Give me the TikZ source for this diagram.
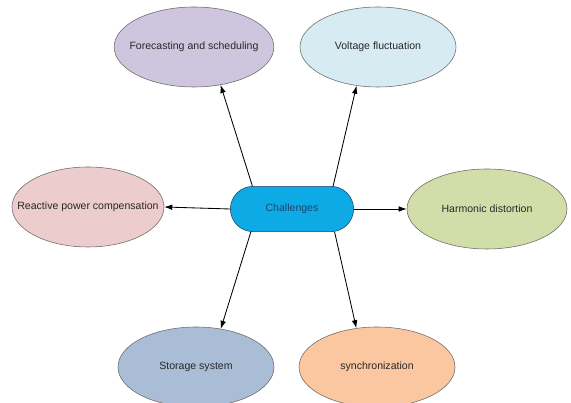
\documentclass[tikz,border=0pt]{standalone}
\usepackage{fontspec}
\setmainfont{Liberation Sans}
\usetikzlibrary{positioning,arrows.meta,shapes.geometric,shapes.misc}
\usepackage{xcolor}
\definecolor{lavender}{RGB}{206,197,222}
\definecolor{icecyan}{RGB}{214,236,242}
\definecolor{rosefill}{RGB}{236,204,205}
\definecolor{olivefill}{RGB}{210,222,170}
\definecolor{slatefill}{RGB}{170,189,215}
\definecolor{peachfill}{RGB}{250,199,160}
\definecolor{chblue}{RGB}{14,170,230}
\definecolor{chbdr}{RGB}{30,70,110}
\definecolor{elbdr}{RGB}{110,105,105}
\definecolor{txtcol}{RGB}{40,40,40}

\begin{document}
\begin{tikzpicture}[font=\fontsize{7.5}{9}\selectfont]
\tikzset{
  EL/.style={draw=elbdr,thin,ellipse,minimum width=3.9cm,minimum height=2.0cm,inner sep=0pt,text=txtcol},
  CH/.style={draw=chbdr,fill=chblue,thin,rounded rectangle,minimum width=3.08cm,minimum height=1.13cm,inner sep=0pt,text=chbdr},
  FL/.style={->,>={Latex[length=2mm,width=1.4mm]},black,line width=0.6pt},
}
\useasboundingbox (0,0) rectangle (14.275,10.075);

\node[CH](chal) at (7.3,4.85){Challenges};

\node[EL,fill=lavender,inner xsep=-0.2cm](fcst) at (4.85,8.9){Forecasting and scheduling};
\node[EL,fill=icecyan](volt) at (9.45,8.9){Voltage fluctuation};
\node[EL,fill=rosefill,minimum width=3.8cm,inner xsep=-0.45cm](reac) at (2.2,4.9){Reactive power compensation};
\node[EL,fill=olivefill,minimum width=4.0cm](harm) at (12.175,4.85){Harmonic distortion};
\node[EL,fill=slatefill](stor) at (4.9,0.9){Storage system};
\node[EL,fill=peachfill](sync) at (9.425,0.9){synchronization};

\draw[FL](chal.150)--(fcst.-55);
\draw[FL](chal.29)--(volt.-119);
\draw[FL](chal.west)--(reac.east);
\draw[FL](chal.east)--(harm.west);
\draw[FL](chal.209)--(stor.57);
\draw[FL](chal.-28)--(sync.118);

\end{tikzpicture}
\end{document}
